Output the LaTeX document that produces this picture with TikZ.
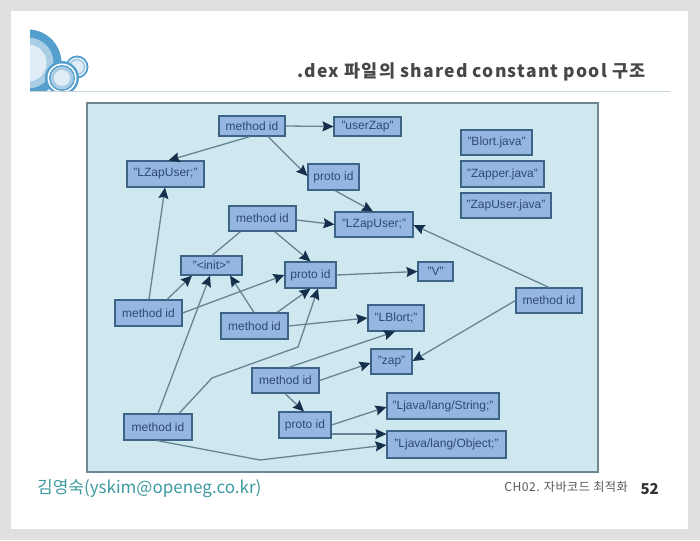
\documentclass[tikz,border=0pt]{standalone}
\usepackage{fontspec}
\setmainfont{Liberation Sans}
\newfontfamily\krfont{Noto Sans CJK KR}
\newfontfamily\titlefont{Noto Sans CJK KR}[LetterSpace=7]
\newfontfamily\chfont{Noto Sans CJK KR}[LetterSpace=3.5]
\usetikzlibrary{arrows.meta}
\definecolor{pageGray}{HTML}{E0E0E0}
\definecolor{panelFill}{HTML}{CFE8F0}
\definecolor{panelEdge}{HTML}{6F8790}
\definecolor{boxFill}{HTML}{96B6E2}
\definecolor{boxEdge}{HTML}{3D6486}
\definecolor{boxText}{HTML}{2D4A70}
\definecolor{lineCol}{HTML}{668493}
\definecolor{headCol}{HTML}{14304C}
\definecolor{ruleCol}{HTML}{C5D6DE}
\definecolor{logoA}{HTML}{559FCE}
\definecolor{logoB}{HTML}{A9CDE4}
\definecolor{logoC}{HTML}{E1EDF6}
\definecolor{handCol}{HTML}{3D9AA0}
\tikzset{
  x=1pt,y=-1pt,
  bx/.style={draw=boxEdge,line width=1.1pt,fill=boxFill,text=boxText,inner sep=0pt,font=\fontsize{12}{14}\selectfont,anchor=center},
  edge/.style={draw=lineCol,line width=1.3pt},
  arr/.style={edge,-{Stealth[length=11pt,width=10pt,inset=1.5pt,color=headCol]}},
}
\newcommand{\bxn}[6]{\node[bx,minimum width=#4 pt-#2 pt,minimum height=#5 pt-#3 pt] (#1) at ({(#2+#4)/2},{(#3+#5)/2}) {#6};}
\begin{document}
\begin{tikzpicture}
\useasboundingbox (0,0) rectangle (700,540);
\fill[pageGray] (0,0) rectangle (700,540);
\fill[white] (11,11) rectangle (688,529);
% logo
\begin{scope}
\clip (30,30) rectangle (92,91.5);
\fill[logoA] (28,63) circle (33.5);
\fill[logoB] (28,63) circle (25.5);
\fill[logoC] (28,63) circle (18.5);
\fill[logoA] (77,67) circle (11.5);
\fill[white] (77,67) circle (9.5);
\fill[logoB] (77,67) circle (8.5);
\fill[logoC] (77,67) circle (6.5);
\fill[logoA] (62,78) circle (17);
\fill[white] (62,78) circle (14.5);
\fill[logoA] (62,78) circle (13);
\fill[logoB] (62,78) circle (11.5);
\fill[logoC] (62,78) circle (8);
\end{scope}
\draw[ruleCol,line width=0.8pt] (30,91.5) -- (670,91.5);
\node[anchor=east,text=black!72,inner sep=0pt,font=\titlefont\fontsize{17.5}{20}\selectfont\bfseries] (title) at (646,72) {.dex 파일의 shared constant pool 구조};
% panel
\fill[panelFill,draw=panelEdge,line width=1.2pt] (87,103) rectangle (598,472);
% nodes
\bxn{ma}{219}{116}{285}{136}{method id}
\bxn{uz}{334}{117}{401}{136}{"userZap"}
\bxn{lz}{127}{161}{204}{187}{"LZapUser;"}
\bxn{pa}{308}{164}{359}{190}{proto id}
\bxn{mb}{229}{206}{296}{231}{method id}
\bxn{lzb}{335}{212}{413}{237}{"LZapUser;"}
\bxn{ini}{181}{256}{242}{275}{"<init>"}
\bxn{pb}{285}{262}{336}{288}{proto id}
\bxn{vv}{418}{262}{453}{281}{"V"}
\bxn{mc}{115}{300}{182}{326}{method id}
\bxn{md}{221}{313}{288}{339}{method id}
\bxn{lb}{368}{305}{424}{331}{"LBlort;"}
\bxn{me}{516}{288}{582}{313}{method id}
\bxn{zap}{371}{349}{412}{374}{"zap"}
\bxn{mf}{252}{368}{319}{393}{method id}
\bxn{mg}{124}{414}{192}{440}{method id}
\bxn{pc}{279}{412}{331}{438}{proto id}
\bxn{st}{387}{393}{499}{419}{"Ljava/lang/String;"}
\bxn{ob}{387}{431}{506}{458}{"Ljava/lang/Object;"}
\bxn{fa}{461}{130}{532}{155}{"Blort.java"}
\bxn{fb}{461}{161}{544}{187}{"Zapper.java"}
\bxn{fc}{461}{193}{551}{218}{"ZapUser.java"}
% waypoints
\coordinate (wa) at (212,378);
\coordinate (wb) at (298,347);
\coordinate (wc) at (260,460);
% edges
\draw[arr] (ma.east) -- (uz.west);
\draw[arr] ([xshift=-2pt]ma.south) -- ([xshift=3pt]lz.north);
\draw[arr] ([xshift=16pt]ma.south) -- ([yshift=1pt]pa.west);
\draw[arr] ([xshift=1.5pt]pa.south) -- ([xshift=-1pt]lzb.north);
\draw[arr] ([yshift=-1.5pt]mb.east) -- (lzb.west);
\draw[edge] ([xshift=-22pt]mb.south) -- ([xshift=0.5pt]ini.north);
\draw[arr] ([xshift=12pt]mb.south) -- (pb.north);
\draw[arr] ([xshift=0.5pt]mc.north) -- ([xshift=-0.5pt]lz.south);
\draw[arr] ([xshift=18.5pt]mc.north) -- ([xshift=-19.5pt]ini.south);
\draw[arr] (mc.east) -- (pb.west);
\draw[arr] ([xshift=-0.5pt]md.north) -- ([xshift=18.5pt]ini.south);
\draw[arr] ([xshift=22.5pt]md.north) -- (pb.south);
\draw[arr] (md.east) -- (lb.west);
\draw[arr] ([xshift=0pt]mg.north) -- ([xshift=-1.5pt]ini.south);
\draw[arr] ([xshift=21pt]mg.north) -- (wa) -- (wb) -- ([xshift=7.5pt]pb.south);
\draw[arr] ([xshift=3pt]mf.north) -- ([xshift=-1pt]lb.south);
\draw[arr] (mf.east) -- ([yshift=-1.5pt]zap.west);
\draw[arr] ([xshift=-0.5pt]mf.south) -- ([xshift=-1pt]pc.north);
\draw[arr] (pc.east) -- ([yshift=-1pt]st.west);
\draw[arr] ([yshift=-9pt]pc.east) -- ([yshift=10.5pt]ob.west);
\draw[arr] ([xshift=-1pt]mg.south) -- (wc) -- ([yshift=-0.5pt]ob.west);
\draw[arr] (me.north) -- ([yshift=-0.5pt]lzb.east);
\draw[arr] (me.west) -- ([yshift=0.5pt]zap.east);
\draw[arr] (pb.east) -- (vv.west);
% footer
\node[anchor=west,text=handCol,inner sep=0pt,font=\krfont\fontsize{17}{20}\selectfont] (who) at (37,489) {김영숙(yskim@openeg.co.kr)};
\node[anchor=east,text=black!65,inner sep=0pt,font=\chfont\fontsize{12.2}{14}\selectfont] (ch) at (628,487) {CH02. 자바코드 최적화};
\node[anchor=east,text=black!80,inner sep=0pt,font=\krfont\fontsize{15}{17}\selectfont\bfseries] (pg) at (659,489) {52};
\end{tikzpicture}
\end{document}
